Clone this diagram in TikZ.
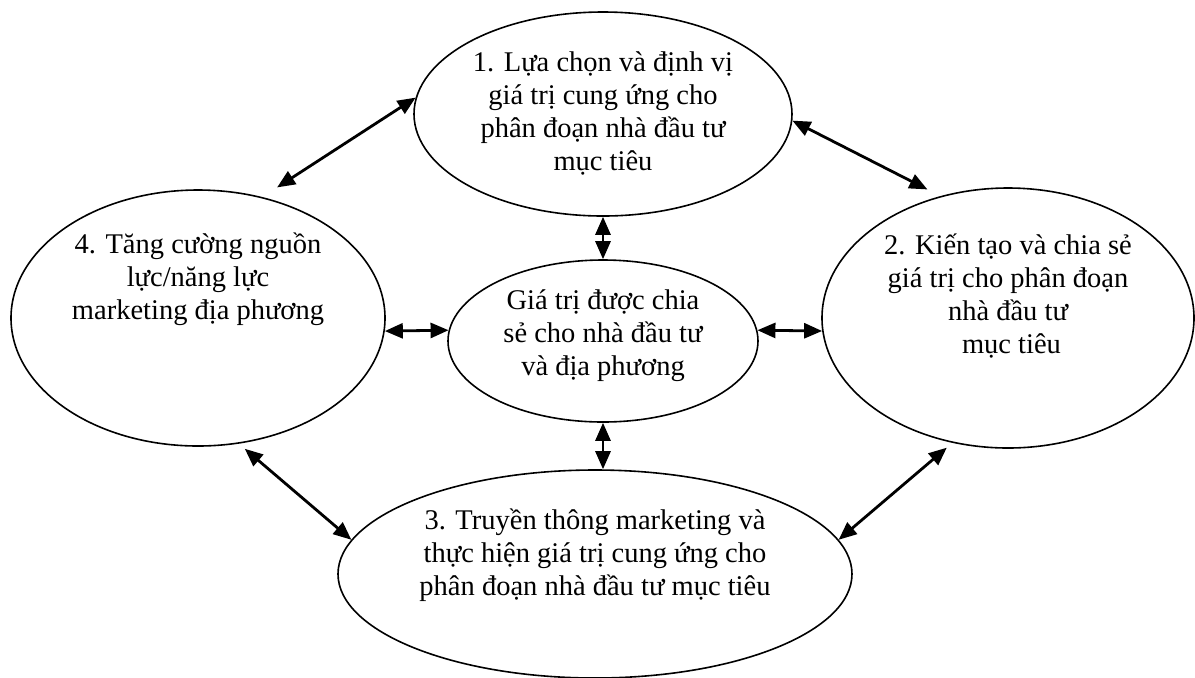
\documentclass[tikz,border=0pt]{standalone}
\usepackage{fontspec}
\setmainfont{Liberation Serif}
\usetikzlibrary{arrows.meta,shapes.geometric,positioning}
\tikzset{
    blob/.style={draw, ellipse, line width=0.8pt, inner sep=0pt},
    lbl/.style={align=center, inner sep=0pt, font=\fontsize{14.25}{16.5}\selectfont},
    link/.style={{Triangle[length=9pt,width=7.5pt]}-{Triangle[length=9pt,width=7.5pt]}, line width=1.4pt}
}

\begin{document}
\begin{tikzpicture}[x=0.5pt, y=-0.5pt]
    \useasboundingbox (0,0) rectangle (1195,677);

    % Draw ellipses.
    \node[blob, minimum width=189pt, minimum height=102pt] (choose) at (603,114) {};
    \node[blob, minimum width=186pt, minimum height=130pt] (create) at (1008,318) {};
    \node[blob, minimum width=257pt, minimum height=104pt] (deliver) at (595,574) {};
    \node[blob, minimum width=187pt, minimum height=128pt] (capab) at (198,318) {};
    \node[blob, minimum width=155pt, minimum height=81pt] (value) at (603,341) {};

    % Draw texts.
    \node[lbl] (choose-txt) at ([yshift=0.5pt]choose.center)
        {1. Lựa chọn và định vị\\giá trị cung ứng cho\\phân đoạn nhà đầu tư\\mục tiêu};
    \node[lbl] (create-txt) at ([yshift=11pt]create.center)
        {2. Kiến tạo và chia sẻ\\giá trị cho phân đoạn\\nhà đầu tư\\\hspace*{3.5pt}mục tiêu};
    \node[lbl] (deliver-txt) at ([yshift=9.5pt]deliver.center)
        {3. Truyền thông marketing và\\thực hiện giá trị cung ứng cho\\phân đoạn nhà đầu tư mục tiêu};
    \node[lbl] (capab-txt) at ([yshift=19.5pt]capab.center)
        {4. Tăng cường nguồn\\lực/năng lực\\marketing địa phương};
    \node[lbl] (value-txt) at ([yshift=2.5pt]value.center)
        {Giá trị được chia\\sẻ cho nhà đầu tư\\và địa phương};

    % Draw arrows.
    \foreach \a/\b/\s in {choose.south/value.north/0pt,
                          value.south/value.south |- deliver.north/0pt,
                          capab.-4/value.176/0pt,
                          value.4/create.184/0pt,
                          choose.175/capab.62/8.8pt,
                          choose.-2/create.119/7.3pt,
                          deliver.172/capab.-72/3.9pt,
                          deliver.8/create.-114/3.7pt}
        \draw[link, shorten >=\s] (\a) -- (\b);
\end{tikzpicture}
\end{document}
